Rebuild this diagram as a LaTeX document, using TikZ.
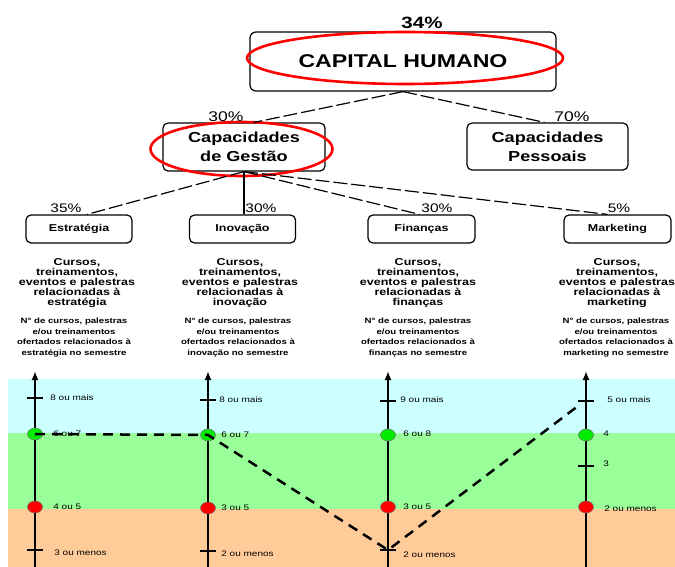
\documentclass[tikz,border=0pt]{standalone}
\usepackage{fontspec}
\setmainfont{Liberation Sans}
\newfontfamily\wide[FakeStretch=1.25]{Liberation Sans}
\usepackage{tikz}
\usetikzlibrary{shapes.geometric, arrows.meta}
\definecolor{sky}{RGB}{204, 255, 255}
\definecolor{grass}{RGB}{153, 255, 153}
\definecolor{peach}{RGB}{255, 204, 153}
\definecolor{ringred}{RGB}{255, 0, 0}
\definecolor{okgreen}{RGB}{0, 235, 0}

\begin{document}
\begin{tikzpicture}[x=1pt, y=-1pt, thick,
  box/.style={draw, rounded corners=5pt, line width=1.2pt, align=center},
  leaf/.style={box, minimum width=106pt, minimum height=28pt, font=\wide\bfseries\fontsize{10}{10}\selectfont},
  pct/.style={inner sep=0pt, font=\wide\fontsize{12.4}{13}\selectfont},
  goal/.style={anchor=north, align=center, inner sep=0pt, font=\wide\bfseries\fontsize{10}{10}\selectfont},
  metric/.style={anchor=north, align=center, inner sep=0pt, font=\wide\bfseries\fontsize{7.7}{10.4}\selectfont},
  link/.style={line width=1.2pt, dash pattern=on 14pt off 4pt},
  axis/.style={line width=2.5pt, -{Latex[length=9pt, width=7pt]}},
  notch/.style={line width=2.5pt},
  lvl/.style={anchor=west, inner sep=0pt, font=\wide\fontsize{8}{8}\selectfont},
  dot/.style={ellipse, draw=black!55, line width=0.5pt, minimum width=15pt, minimum height=12pt, inner sep=0pt},
  circled/.style={color=ringred, line width=2.6pt},
  trend/.style={line width=2.5pt, dash pattern=on 10pt off 7pt}]
  \useasboundingbox (0, 0) rectangle (675, 567);

  % faixas de desempenho
  \fill[color=sky] (8, 379) rectangle (675, 433);
  \fill[color=grass] (8, 433) rectangle (675, 509);
  \fill[color=peach] (8, 509) rectangle (675, 567);

  \node[box, minimum width=306pt, minimum height=59pt, rounded corners=6pt, font=\wide\bfseries\fontsize{18.5}{20}\selectfont] (capital) at (403, 61.5) {CAPITAL HUMANO};
  \node[box, minimum width=162pt, minimum height=48pt, font=\wide\bfseries\fontsize{14.5}{19}\selectfont] (gestao) at (244, 147) {Capacidades\\de Gestão};
  \node[box, minimum width=161pt, minimum height=47pt, font=\wide\bfseries\fontsize{14.5}{19}\selectfont] (pessoais) at (547.5, 146.5) {Capacidades\\Pessoais};
  \draw[circled] (405, 58) ellipse [x radius=158pt, y radius=26pt];
  \draw[circled] (241.5, 149) ellipse [x radius=91pt, y radius=27pt];

  \node[pct, font=\wide\bfseries\fontsize{16.4}{17}\selectfont] (p0) at (422, 23) {34\%};
  \node[pct, font=\wide\fontsize{14}{15}\selectfont] (p1) at (226, 117) {30\%};
  \node[pct, font=\wide\fontsize{14}{15}\selectfont] (p2) at (572, 117) {70\%};

  \node[leaf] (estrategia) at (79, 229) {Estratégia};
  \node[leaf] (inovacao) at (242.5, 229) {Inovação};
  \node[leaf, minimum width=107pt] (financas) at (421.5, 229) {Finanças};
  \node[leaf, minimum width=107pt] (marketing) at (617.5, 229) {Marketing};
  \node[pct] (p3) at (66, 208) {35\%};
  \node[pct] (p4) at (261, 208) {30\%};
  \node[pct] (p5) at (437, 208) {30\%};
  \node[pct] (p6) at (619, 208) {5\%};

  \draw[link] (capital.south) -- ([xshift=10pt]gestao.north);
  \draw[link] (capital.south) -- ([xshift=-3pt]pessoais.north);
  \draw[link] (gestao.south) -- ([xshift=8pt]estrategia.north);
  \draw[line width=1.2pt] (gestao.south) -- (gestao.south |- inovacao.north);
  \draw[link] (gestao.south) -- ([xshift=-2pt]financas.north);
  \draw[link] (gestao.south) -- ([xshift=-10pt]marketing.north);

  \node[goal] (g1) at (77, 258) {Cursos,\\treinamentos,\\eventos e palestras\\relacionadas à\\estratégia};
  \node[goal] (g2) at (240, 258) {Cursos,\\treinamentos,\\eventos e palestras\\relacionadas à\\inovação};
  \node[goal] (g3) at (418, 258) {Cursos,\\treinamentos,\\eventos e palestras\\relacionadas à\\finanças};
  \node[goal] (g4) at (617, 258) {Cursos,\\treinamentos,\\eventos e palestras\\relacionadas à\\marketing};
  \node[metric] (m1) at (74, 318) {N° de cursos, palestras\\e/ou treinamentos\\ofertados relacionados à\\estratégia no semestre};
  \node[metric] (m2) at (238, 318) {N° de cursos, palestras\\e/ou treinamentos\\ofertados relacionados à\\inovação no semestre};
  \node[metric] (m3) at (418, 318) {N° de cursos, palestras\\e/ou treinamentos\\ofertados relacionados à\\finanças no semestre};
  \node[metric] (m4) at (616, 318) {N° de cursos, palestras\\e/ou treinamentos\\ofertados relacionados à\\marketing no semestre};

  % escalas
  \draw[axis] (35, 567) -- (35, 371);
  \draw[axis] (208, 567) -- (208, 371);
  \draw[axis] (388, 567) -- (388, 371);
  \draw[axis] (586, 567) -- (586, 371);
  \draw[notch] (27, 398) -- (43, 398);
  \draw[notch] (27, 550) -- (43, 550);
  \draw[notch] (200, 400) -- (216, 400);
  \draw[notch] (200, 551) -- (216, 551);
  \draw[notch] (380, 401) -- (396, 401);
  \draw[notch] (380, 550) -- (396, 550);
  \draw[notch] (578, 401) -- (594, 401);
  \draw[notch] (578, 466) -- (594, 466);
  \coordinate (low3) at (388, 550);
  \coordinate (top4) at (578, 406);

  \node[dot, fill=okgreen] (v1) at (35, 434) {};
  \node[dot, fill=okgreen] (v2) at (208, 435) {};
  \node[dot, fill=okgreen] (v3) at (388, 435) {};
  \node[dot, fill=okgreen] (v4) at (586, 435) {};
  \node[dot, fill=ringred] (r1) at (35, 507) {};
  \node[dot, fill=ringred] (r2) at (208, 508) {};
  \node[dot, fill=ringred] (r3) at (388, 507) {};
  \node[dot, fill=ringred] (r4) at (586, 507) {};

  \draw[trend] (v1.center) -- (v2.center) -- (low3) -- (top4);

  \node[lvl] (l11) at (50, 398) {8 ou mais};
  \node[lvl] (l12) at (53, 434) {6 ou 7};
  \node[lvl] (l13) at (53, 507) {4 ou 5};
  \node[lvl] (l14) at (54, 553) {3 ou menos};
  \node[lvl] (l21) at (219, 400) {8 ou mais};
  \node[lvl] (l22) at (221, 435) {6 ou 7};
  \node[lvl] (l23) at (221, 508) {3 ou 5};
  \node[lvl] (l24) at (221, 554) {2 ou menos};
  \node[lvl] (l31) at (400, 400) {9 ou mais};
  \node[lvl] (l32) at (403, 434) {6 ou 8};
  \node[lvl] (l33) at (403, 507) {3 ou 5};
  \node[lvl] (l34) at (403, 555) {2 ou menos};
  \node[lvl] (l41) at (607, 400) {5 ou mais};
  \node[lvl] (l42) at (603, 434) {4};
  \node[lvl] (l43) at (603, 464) {3};
  \node[lvl] (l44) at (604, 509) {2 ou menos};
\end{tikzpicture}
\end{document}
